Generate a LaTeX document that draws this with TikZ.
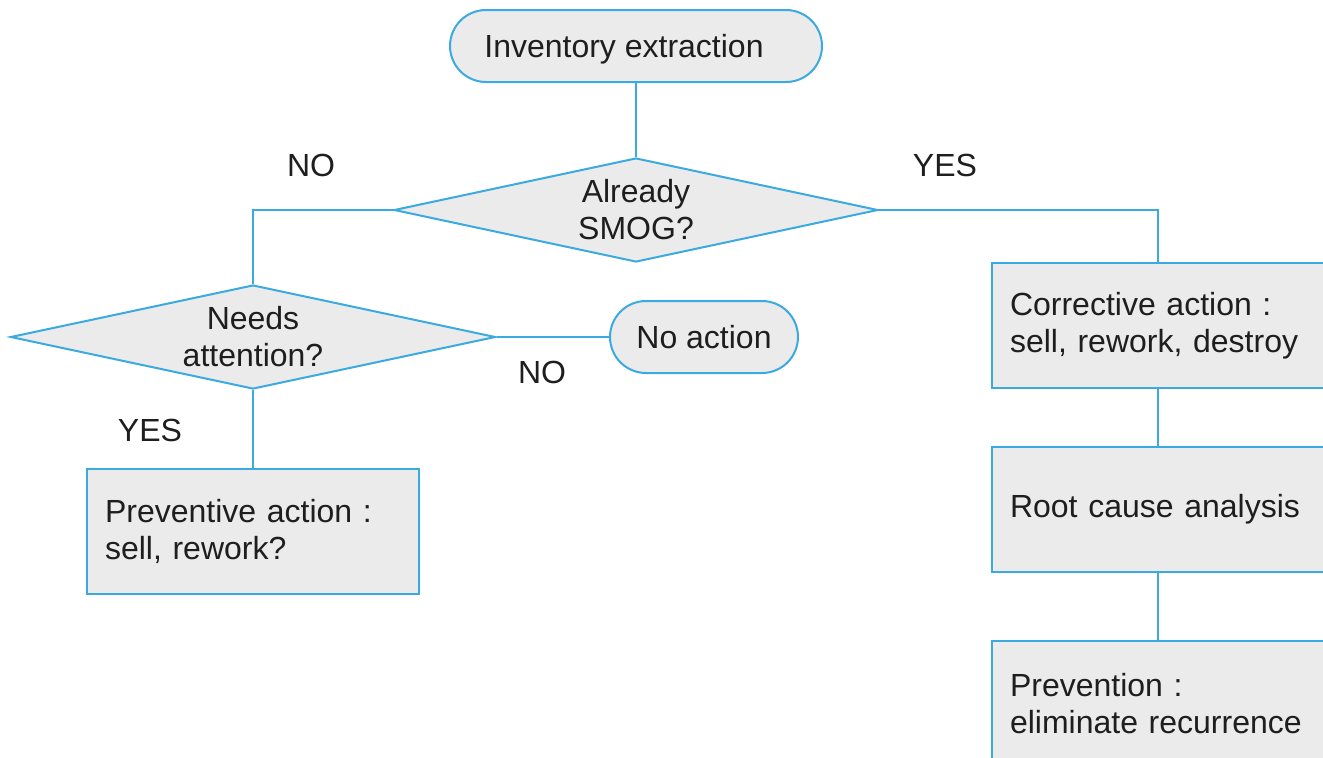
\documentclass[tikz,border=0pt]{standalone}
\usepackage{fontspec}
\setmainfont{Liberation Sans}
\usetikzlibrary{shapes.geometric}
\definecolor{edgeblue}{HTML}{3AAAE0}
\definecolor{boxfill}{HTML}{EBEBEB}
\definecolor{ink}{HTML}{1E1E1E}
\tikzset{
  base/.style={draw=edgeblue, fill=boxfill, line width=1pt, text=ink,
    font=\fontsize{16}{18.5}\selectfont},
  terminal/.style={base, rectangle, rounded corners=18pt, minimum height=36pt, inner sep=0pt,
    text depth=0pt},
  decision/.style={base, diamond, aspect=4.6, inner sep=0pt, align=center,
    minimum width=242pt, minimum height=52pt},
  actionbox/.style={base, rectangle, minimum width=166pt, minimum height=62.5pt,
    text width=148pt, inner xsep=9pt, inner ysep=0pt, align=left},
  conn/.style={draw=edgeblue, line width=1pt},
  lbl/.style={text=ink, font=\fontsize{16}{18.5}\selectfont, inner sep=0pt}
}
\begin{document}
\begin{tikzpicture}[x=0.5pt, y=-0.5pt]
\useasboundingbox (0,0) rectangle (1323,757);
\clip (0,0) rectangle (1323,757);
\node[terminal, minimum width=186pt] (inv) at (636,46) {Inventory extraction\hspace*{12pt}\mbox{}};
\node[decision] (smog) at (636,210) {Already\\SMOG?};
\node[decision, minimum width=242.5pt] (needs) at (253,337) {Needs\\attention?};
\node[terminal, minimum width=94pt] (noact) at (704,337) {No action};
\node[actionbox, anchor=north] (prev) at (253,468) {Preventive action :\\sell, rework?};
\node[actionbox, anchor=north] (corr) at (1158,262) {Corrective action :\\sell, rework, destroy};
\node[actionbox, anchor=north] (root) at (1158,446) {Root cause analysis};
\node[actionbox, anchor=north] (prevn) at (1158,640) {Prevention :\\eliminate recurrence};

\draw[conn] (inv.south) -- (smog.north);
\draw[conn] (smog.west) -| (needs.north);
\draw[conn] (smog.east) -| (corr.north);
\draw[conn] (needs.east) -- (noact.west);
\draw[conn] (needs.south) -- (prev.north);
\draw[conn] (corr.south) -- (root.north);
\draw[conn] (root.south) -- (prevn.north);

\node[lbl] (lno1) at (311,165) {NO};
\node[lbl] (lyes1) at (945,165) {YES};
\node[lbl] (lno2) at (542,372) {NO};
\node[lbl] (lyes2) at (150,430) {YES};
\end{tikzpicture}
\end{document}
